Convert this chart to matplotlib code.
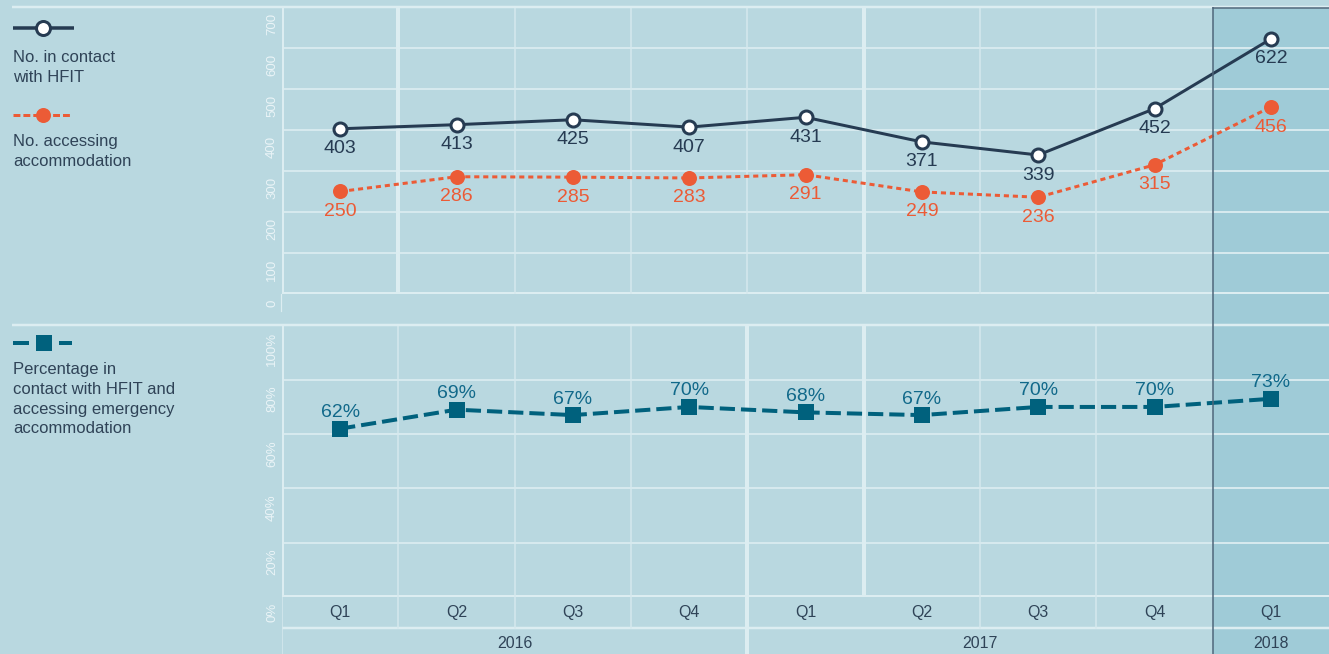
import matplotlib.pyplot as plt
from matplotlib import transforms

plt.rcParams['font.family'] = ['Liberation Sans', 'DejaVu Sans']

# quarterly figures
quarters = ['Q1', 'Q2', 'Q3', 'Q4', 'Q1', 'Q2', 'Q3', 'Q4', 'Q1']
years = ['2016', '2017', '2018']
year_first = [0, 4, 8]
year_last = [3, 7, 8]
in_contact = [403, 413, 425, 407, 431, 371, 339, 452, 622]
accessing = [250, 286, 285, 283, 291, 249, 236, 315, 456]
pct_accessing = [62, 69, 67, 70, 68, 67, 70, 70, 73]
count_ticks = [0, 100, 200, 300, 400, 500, 600, 700]
pct_ticks = [0, 20, 40, 60, 80, 100]

W, H = 1329, 654
BG = '#b9d8e0'
SHADE = '#9fcbd7'
GRID = '#d6e9ee'
GRID_THICK = '#dcedf1'
NAVY = '#263b52'
ORANGE = '#ec5b36'
TEAL = '#00617d'
TEAL_TXT = '#11698a'
TEXT = '#2f4357'
TICK_TXT = '#eaf4f7'
EDGE = '#4d6579'

px = 0.72  # pixels -> points at 100 dpi

fig = plt.figure(figsize=(W / 100, H / 100), dpi=100, facecolor=BG)


def box(x0, y0, x1, y1):
    return [x0 / W, 1 - y1 / H, (x1 - x0) / W, (y1 - y0) / H]


# shading for the latest quarter behind everything
back = fig.add_axes(box(282, 7, W, H), zorder=0)
back.set_xlim(-0.5, 8.5)
back.set_ylim(H, 7)
back.axis('off')
back.patch.set_visible(False)
back.axvspan(7.5, 8.5, color=SHADE, lw=0)

ax_top = fig.add_axes(box(282, 7, W, 294), zorder=1)
ax_bot = fig.add_axes(box(282, 325.5, W, 597), zorder=1)
ax_lab = fig.add_axes(box(282, 597, W, H), zorder=1)
for ax in (ax_top, ax_bot, ax_lab):
    ax.patch.set_visible(False)
    ax.set_xlim(-0.5, 8.5)
    for s in ax.spines.values():
        s.set_visible(False)
    ax.set_xticks([])
    ax.set_yticks([])

ax_top.set_ylim(0, 700)
ax_bot.set_ylim(0, 100)
ax_lab.set_ylim(57, 0)

# canvas in pixel units for the legend and full-width rules
canvas = fig.add_axes([0, 0, 1, 1], zorder=1.5)
canvas.set_xlim(0, W)
canvas.set_ylim(H, 0)
canvas.axis('off')
canvas.patch.set_visible(False)

canvas.plot([12, W], [7, 7], color=GRID_THICK, lw=2.5 * px, solid_capstyle='butt')
canvas.plot([12, W], [325, 325], color=GRID_THICK, lw=2.5 * px, solid_capstyle='butt')
canvas.plot([281, 281], [294, 311], color=GRID_THICK, lw=1.2 * px)

# grids of the count panel
for v in count_ticks[1:-1]:
    ax_top.axhline(v, color=GRID, lw=2 * px, zorder=1)
ax_top.axhline(0, color=GRID_THICK, lw=4 * px, zorder=1)
for b in [1.5, 2.5, 3.5, 5.5, 6.5]:
    ax_top.axvline(b, color=GRID, lw=1.5 * px, zorder=1)
for b in [-0.5, 0.5, 4.5]:
    ax_top.axvline(b, color=GRID_THICK, lw=4 * px, zorder=1)

# grids of the percentage panel
for v in pct_ticks[1:-1]:
    ax_bot.axhline(v, color=GRID, lw=2 * px, zorder=1)
ax_bot.axhline(0, color=GRID_THICK, lw=4 * px, zorder=1)
for b in [0.5, 1.5, 2.5, 5.5, 6.5]:
    ax_bot.axvline(b, color=GRID, lw=1.5 * px, zorder=1)
for b in [-0.5, 3.5, 4.5]:
    ax_bot.axvline(b, color=GRID_THICK, lw=4 * px, zorder=1)

# category rows under the panels
ax_lab.axhline(31, color=GRID_THICK, lw=2.5 * px)
for b in [0.5, 1.5, 2.5, 5.5, 6.5]:
    ax_lab.plot([b, b], [0, 31], color=GRID, lw=1.5 * px)
ax_lab.axvline(-0.5, color=GRID, lw=1.5 * px)
ax_lab.axvline(3.5, color=GRID_THICK, lw=4 * px)
for i, q in enumerate(quarters):
    ax_lab.text(i, 16, q, ha='center', va='center', fontsize=11.5, color=TEXT)
for y, a, b in zip(years, year_first, year_last):
    ax_lab.text((a + b) / 2, 46, y, ha='center', va='center', fontsize=11.5, color=TEXT)

# rotated axis labels
tick_tr = transforms.offset_copy(ax_top.transData, fig=fig, x=-10, y=-6, units='dots')
for v in count_ticks:
    ax_top.text(-0.5, v, str(v), transform=tick_tr, rotation=90, ha='center', va='top',
                fontsize=9.5, color=TICK_TXT, clip_on=False)
tick_tr = transforms.offset_copy(ax_bot.transData, fig=fig, x=-10, y=-6, units='dots')
for v in pct_ticks:
    ax_bot.text(-0.5, v, f'{v}%', transform=tick_tr, rotation=90, ha='center', va='top',
                fontsize=9.5, color=TICK_TXT, clip_on=False)

x = list(range(len(quarters)))

# series
ax_top.plot(x, in_contact, color=NAVY, lw=3 * px, marker='o', ms=13 * px,
            mfc='white', mec=NAVY, mew=3 * px, zorder=4)
ax_top.plot(x, accessing, color=ORANGE, lw=3 * px, ls=(0, (1.7, 1.3)), marker='o',
            ms=15 * px, mfc=ORANGE, mec=ORANGE, mew=0, zorder=3)
ax_bot.plot(x, pct_accessing, color=TEAL, lw=4 * px, ls=(0, (3.8, 1.5)), marker='s',
            ms=16 * px, mfc=TEAL, mec=TEAL, mew=0, zorder=3)

for i, v in enumerate(in_contact):
    ax_top.annotate(str(v), (i, v), xytext=(0, -20 * px), textcoords='offset points',
                    ha='center', va='center', fontsize=14, color=NAVY, zorder=5)
for i, v in enumerate(accessing):
    ax_top.annotate(str(v), (i, v), xytext=(0, -20 * px), textcoords='offset points',
                    ha='center', va='center', fontsize=14, color=ORANGE, zorder=5)
for i, v in enumerate(pct_accessing):
    ax_bot.annotate(f'{v}%', (i, v), xytext=(0, 16 * px), textcoords='offset points',
                    ha='center', va='center', fontsize=14, color=TEAL_TXT, zorder=5)

# border of the latest quarter
front = fig.add_axes(box(282, 7, W, H), zorder=2)
front.set_xlim(-0.5, 8.5)
front.set_ylim(H, 7)
front.axis('off')
front.patch.set_visible(False)
front.axvline(7.5, color=EDGE, lw=1.5 * px)
front.plot([7.5, 8.5], [7.5, 7.5], color=EDGE, lw=1.5 * px, clip_on=False)

# legend
canvas.plot([13, 74], [28, 28], color=NAVY, lw=3.5 * px, solid_capstyle='butt')
canvas.plot([43], [28], marker='o', ms=14 * px, mfc='white', mec=NAVY, mew=3 * px)
canvas.text(13, 50, 'No. in contact\nwith HFIT', ha='left', va='top', fontsize=12,
            color=TEXT, linespacing=1.4)
canvas.plot([13, 72], [115, 115], color=ORANGE, lw=3 * px, ls=(0, (2.3, 1.0)))
canvas.plot([43], [115], marker='o', ms=15 * px, mfc=ORANGE, mec=ORANGE, mew=0)
canvas.text(13, 134, 'No. accessing\naccommodation', ha='left', va='top', fontsize=12,
            color=TEXT, linespacing=1.4)
canvas.plot([13, 72], [343, 343], color=TEAL, lw=4 * px, ls=(0, (4, 1.75)))
canvas.plot([44], [343], marker='s', ms=16 * px, mfc=TEAL, mec=TEAL, mew=0)
canvas.text(13, 362, 'Percentage in\ncontact with HFIT and\naccessing emergency\naccommodation',
            ha='left', va='top', fontsize=12, color=TEXT, linespacing=1.4)

fig.savefig('out.png', dpi=100, facecolor=BG)
